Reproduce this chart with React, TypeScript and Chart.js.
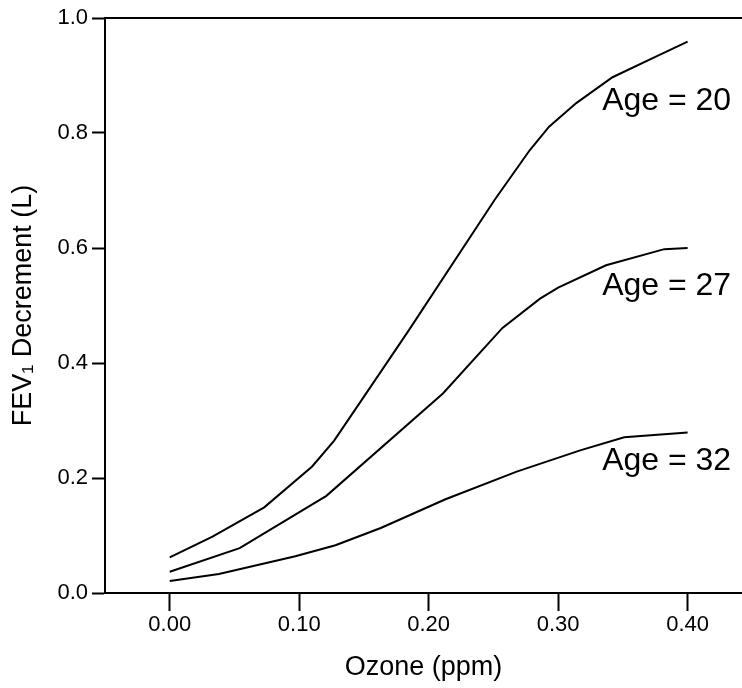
import React, { useEffect, useRef } from "react";
import { Chart, registerables } from "chart.js";

Chart.register(...registerables);

// Ozone concentration (ppm) and FEV1 decrement (L) for each age curve
const ozoneAge20 = [0.0, 0.033, 0.073, 0.11, 0.127, 0.164, 0.185, 0.251, 0.278, 0.293, 0.314, 0.342, 0.371, 0.4];
const fevAge20 = [0.062, 0.098, 0.149, 0.22, 0.265, 0.388, 0.458, 0.684, 0.77, 0.811, 0.852, 0.897, 0.928, 0.959];

const ozoneAge27 = [0.0, 0.054, 0.121, 0.211, 0.257, 0.286, 0.3, 0.337, 0.382, 0.4];
const fevAge27 = [0.037, 0.078, 0.169, 0.347, 0.461, 0.512, 0.531, 0.57, 0.598, 0.6];

const ozoneAge32 = [0.0, 0.038, 0.097, 0.128, 0.163, 0.213, 0.268, 0.317, 0.351, 0.4];
const fevAge32 = [0.021, 0.033, 0.064, 0.083, 0.113, 0.163, 0.211, 0.248, 0.271, 0.279];

const xTicks = [0.0, 0.1, 0.2, 0.3, 0.4];
const yTicks = [0.0, 0.2, 0.4, 0.6, 0.8, 1.0];

const curveLabels = ["Age = 20", "Age = 27", "Age = 32"];
const labelOzone = [0.334, 0.334, 0.334];
const labelFev = [0.84, 0.518, 0.214];

const FONT = "'Liberation Sans', Arial, Helvetica, sans-serif";

const toPoints = (xs: number[], ys: number[]) => xs.map((x, i) => ({ x, y: ys[i] }));

const framePlugin = {
  id: "frameAndLabels",
  afterDatasetsDraw(chart: any) {
    const { ctx, chartArea, scales } = chart;
    ctx.save();
    ctx.strokeStyle = "#000";
    ctx.lineWidth = 2;
    ctx.beginPath();
    ctx.moveTo(chartArea.left - 1, chartArea.top);
    ctx.lineTo(chartArea.right, chartArea.top);
    ctx.stroke();
    ctx.fillStyle = "#000";
    ctx.font = `32px ${FONT}`;
    ctx.textAlign = "left";
    ctx.textBaseline = "alphabetic";
    curveLabels.forEach((t, i) => {
      ctx.fillText(t, scales.x.getPixelForValue(labelOzone[i]), scales.y.getPixelForValue(labelFev[i]));
    });
    ctx.restore();
  },
};

export default function App() {
  const ref = useRef<HTMLCanvasElement | null>(null);
  useEffect(() => {
    if (!ref.current) return;
    const ds = (xs: number[], ys: number[]) => ({
      data: toPoints(xs, ys),
      borderColor: "#000",
      borderWidth: 2,
      pointRadius: 0,
      fill: false,
      tension: 0,
    });
    const chart = new Chart(ref.current, {
      type: "line",
      data: {
        datasets: [ds(ozoneAge20, fevAge20), ds(ozoneAge27, fevAge27), ds(ozoneAge32, fevAge32)],
      },
      options: {
        animation: false,
        responsive: false,
        layout: { padding: { top: 18, left: 0, right: 0, bottom: 0 } },
        plugins: { legend: { display: false }, tooltip: { enabled: false } },
        scales: {
          x: {
            type: "linear",
            min: -0.05,
            max: 0.442,
            afterBuildTicks: (s: any) => {
              s.ticks = xTicks.map((v) => ({ value: v }));
            },
            afterFit: (s: any) => {
              s.height = 95;
            },
            ticks: {
              color: "#000",
              font: { family: FONT, size: 22 },
              padding: 1,
              maxRotation: 0,
              callback: (v: any) => Number(v).toFixed(2),
            },
            grid: {
              display: true,
              drawOnChartArea: false,
              drawTicks: true,
              tickLength: 18,
              tickWidth: 2,
              tickColor: "#000",
              color: "#000",
            },
            border: { display: true, color: "#000", width: 2 },
            title: {
              display: true,
              text: "Ozone (ppm)",
              color: "#000",
              font: { family: FONT, size: 27 },
              padding: { top: 0, bottom: 4 },
            },
          },
          y: {
            type: "linear",
            min: 0,
            max: 1,
            afterBuildTicks: (s: any) => {
              s.ticks = yTicks.map((v) => ({ value: v }));
            },
            afterFit: (s: any) => {
              s.width = 105;
            },
            ticks: {
              color: "#000",
              font: { family: FONT, size: 22 },
              padding: 4,
              callback: (v: any) => Number(v).toFixed(1),
            },
            grid: {
              display: true,
              drawOnChartArea: false,
              drawTicks: true,
              tickLength: 13,
              tickWidth: 2,
              tickColor: "#000",
              color: "#000",
            },
            border: { display: true, color: "#000", width: 2 },
            title: {
              display: true,
              text: "FEV\u2081 Decrement (L)",
              color: "#000",
              font: { family: FONT, size: 27 },
              padding: { top: 7, bottom: 0 },
            },
          },
        },
      },
      plugins: [framePlugin],
    } as any);
    return () => chart.destroy();
  }, []);
  return (
    <div style={{ position: "absolute", left: 0, top: 0, width: 742, height: 688, background: "#fff" }}>
      <canvas ref={ref} width={742} height={688} style={{ display: "block" }} />
    </div>
  );
}
